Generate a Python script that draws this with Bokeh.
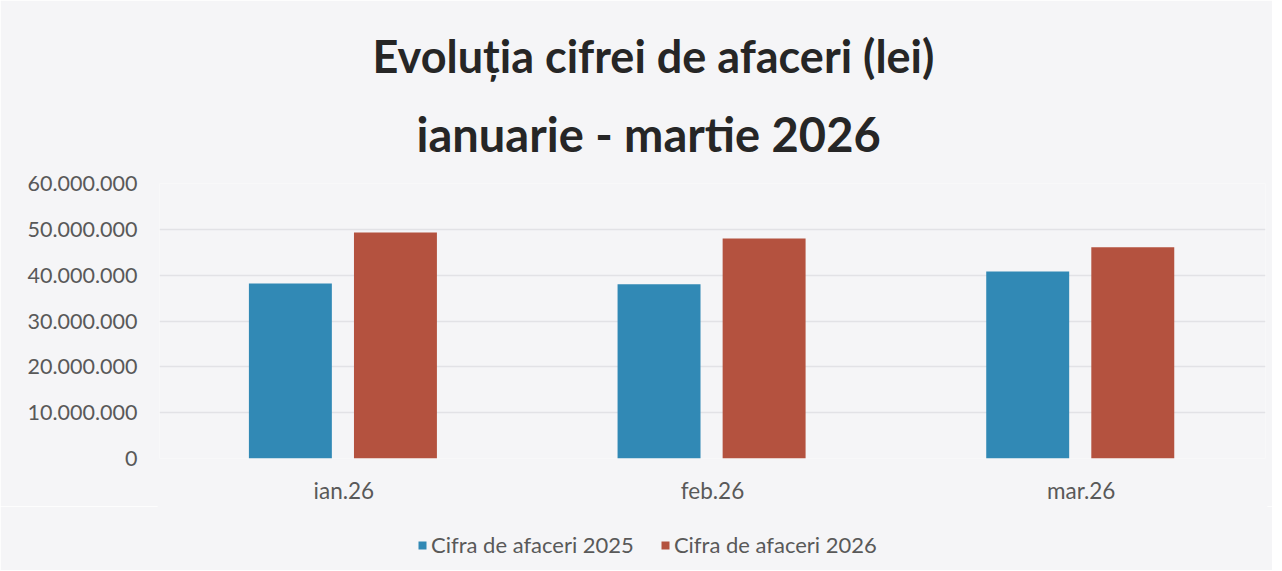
from bokeh.plotting import figure
from bokeh.layouts import column
from bokeh.models import ColumnDataSource, FactorRange, Range1d, FixedTicker, Title, Legend, LegendItem
from bokeh.transform import dodge
from bokeh.embed import file_html
from bokeh.resources import INLINE

months = ["ian.26", "feb.26", "mar.26"]
values_2025 = [38200000, 38000000, 40800000]
values_2026 = [49300000, 48000000, 46100000]
series_names = ["Cifra de afaceri 2025", "Cifra de afaceri 2026"]
y_ticks = [0, 10000000, 20000000, 30000000, 40000000, 50000000, 60000000]
y_tick_labels = ["0", "10.000.000", "20.000.000", "30.000.000", "40.000.000", "50.000.000", "60.000.000"]
title_lines = ["Evoluția cifrei de afaceri (lei)", "ianuarie - martie 2026"]

BG = "#f5f5f7"
BLUE = "#3189b5"
RED = "#b4523f"
FONT = "Lato"
TXT = "#595959"

src = ColumnDataSource(dict(m=months, a=values_2025, b=values_2026))

p = figure(x_range=FactorRange(*months), y_range=Range1d(0, 60000000),
           frame_width=1106, frame_height=275, output_backend="svg", toolbar_location=None,
           min_border_left=159, min_border_right=7, min_border_top=183, min_border_bottom=40)
p.background_fill_color = BG
p.border_fill_color = BG
p.outline_line_color = None

p.vbar(x=dodge("m", -0.145, range=p.x_range), top="a", width=0.225, source=src,
       fill_color=BLUE, line_color=None)
p.vbar(x=dodge("m", 0.14, range=p.x_range), top="b", width=0.225, source=src,
       fill_color=RED, line_color=None)

p.yaxis.ticker = FixedTicker(ticks=y_ticks)
p.yaxis.major_label_overrides = {t: l for t, l in zip(y_ticks, y_tick_labels)}
for ax in (p.xaxis, p.yaxis):
    ax.axis_line_color = None
    ax.major_tick_line_color = None
    ax.minor_tick_line_color = None
    ax.major_label_text_font = FONT
    ax.major_label_text_color = TXT
p.xaxis.major_label_text_font_size = "22.5px"
p.yaxis.major_label_text_font_size = "21.5px"
p.yaxis.major_label_standoff = 16
p.xaxis.major_label_standoff = 12

p.xgrid.grid_line_color = None
p.ygrid.grid_line_color = "#e2e2e6"
p.ygrid.grid_line_width = 1.5

p.add_layout(Title(text=title_lines[1], align="left", offset=257, standoff=43,
                   text_font=FONT, text_font_style="bold", text_font_size="47px",
                   text_color="#262626"), "above")
p.add_layout(Title(text=title_lines[0], align="left", offset=213, standoff=0,
                   text_font=FONT, text_font_style="bold", text_font_size="45px",
                   text_color="#262626"), "above")

# legend strip below the chart
p2 = figure(x_range=FactorRange(*months), y_range=Range1d(-2e9, -1e9),
            width=1272, height=64, output_backend="svg", toolbar_location=None,
            x_axis_location=None, y_axis_location=None, min_border=0)
p2.background_fill_color = BG
p2.border_fill_color = BG
p2.outline_line_color = BG
p2.outline_line_width = 4
p2.grid.visible = False
l1 = p2.vbar(x="m", top="a", width=0, source=src, fill_color=BLUE, line_color=None)
l2 = p2.vbar(x="m", top="b", width=0, source=src, fill_color=RED, line_color=None)

legend = Legend(items=[LegendItem(label=series_names[0], renderers=[l1]),
                       LegendItem(label=series_names[1], renderers=[l2])],
                orientation="horizontal", location=(258, 12))
legend.background_fill_alpha = 0
legend.border_line_color = None
legend.label_text_font = FONT
legend.label_text_font_size = "22px"
legend.label_text_color = TXT
legend.glyph_width = 10
legend.glyph_height = 10
legend.label_standoff = 4
legend.spacing = 26
legend.padding = 0
legend.margin = 0
p2.add_layout(legend)

layout = column(p, p2, spacing=0)
open("out.html", "w").write(file_html(layout, INLINE))
